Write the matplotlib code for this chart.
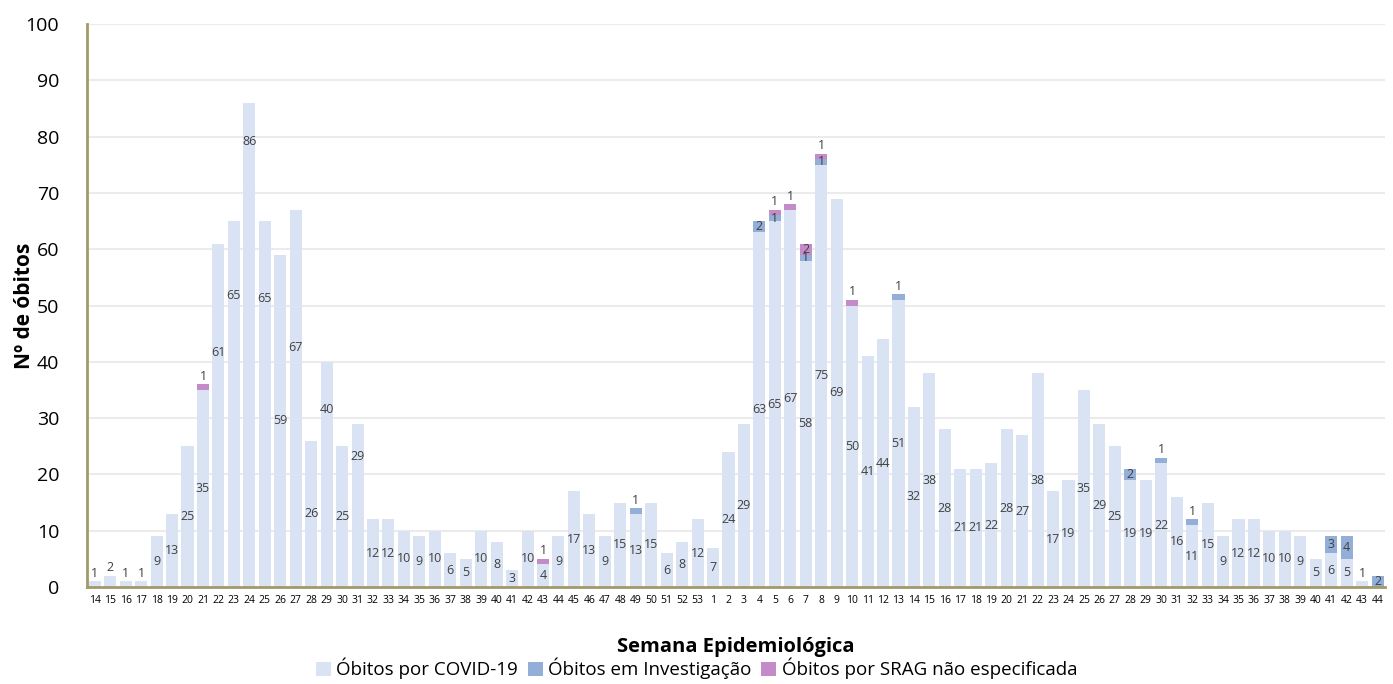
import numpy as np
import matplotlib
matplotlib.use("Agg")
import matplotlib.pyplot as plt
from matplotlib.patches import Patch

plt.rcParams['font.family'] = ['Open Sans', 'DejaVu Sans']

# semanas epidemiologicas: 2020 (14-53) e 2021 (1-44)
weeks = [str(w) for w in range(14, 54)] + [str(w) for w in range(1, 45)]

covid = [1, 2, 1, 1, 9, 13, 25, 35, 61, 65, 86, 65, 59, 67, 26, 40, 25, 29,
         12, 12, 10, 9, 10, 6, 5, 10, 8, 3, 10, 4, 9, 17, 13, 9, 15, 13, 15,
         6, 8, 12,
         7, 24, 29, 63, 65, 67, 58, 75, 69, 50, 41, 44, 51, 32, 38, 28, 21,
         21, 22, 28, 27, 38, 17, 19, 35, 29, 25, 19, 19, 22, 16, 11, 15, 9,
         12, 12, 10, 10, 9, 5, 6, 5, 1, 0]

investigacao = [0, 0, 0, 0, 0, 0, 0, 0, 0, 0, 0, 0, 0, 0, 0, 0, 0, 0,
                0, 0, 0, 0, 0, 0, 0, 0, 0, 0, 0, 0, 0, 0, 0, 0, 0, 1, 0,
                0, 0, 0,
                0, 0, 0, 2, 1, 0, 1, 1, 0, 0, 0, 0, 1, 0, 0, 0, 0,
                0, 0, 0, 0, 0, 0, 0, 0, 0, 0, 2, 0, 1, 0, 1, 0, 0,
                0, 0, 0, 0, 0, 0, 3, 4, 0, 2]

srag = [0, 0, 0, 0, 0, 0, 0, 1, 0, 0, 0, 0, 0, 0, 0, 0, 0, 0,
        0, 0, 0, 0, 0, 0, 0, 0, 0, 0, 0, 1, 0, 0, 0, 0, 0, 0, 0,
        0, 0, 0,
        0, 0, 0, 0, 1, 1, 2, 1, 0, 1, 0, 0, 0, 0, 0, 0, 0,
        0, 0, 0, 0, 0, 0, 0, 0, 0, 0, 0, 0, 0, 0, 0, 0, 0,
        0, 0, 0, 0, 0, 0, 0, 0, 0, 0]

series = [
    ("Óbitos por COVID-19", covid, "#dae3f3"),
    ("Óbitos em Investigação", investigacao, "#93afd8"),
    ("Óbitos por SRAG não especificada", srag, "#c38cc8"),
]

# rótulos deslocados no original (onda de 2020)
label_y_fix = {8: 41.7, 9: 51.7, 10: 79.2, 11: 51.3, 13: 42.5, 15: 31.6, 17: 23.1}

fig = plt.figure(figsize=(13.93, 6.84), dpi=100)
ax = fig.add_axes([0.0625, 0.1418, 0.932, 0.823])

x = np.arange(len(weeks))
bottom = np.zeros(len(weeks))
for si, (name, vals, col) in enumerate(series):
    vals = np.array(vals, dtype=float)
    ax.bar(x, vals, 0.78, bottom=bottom, color=col, zorder=2)
    for i, v in enumerate(vals):
        if v <= 0:
            continue
        top_seg = all(series[k][1][i] == 0 for k in range(si + 1, 3))
        if si == 0:
            above = v <= 2
        else:
            above = top_seg and v == 1
        if above:
            ax.text(i, bottom[i] + v + 0.3, f"{int(v)}", ha="center", va="bottom",
                    fontsize=9, color="#404040", zorder=3)
        else:
            ypos = label_y_fix.get(i, bottom[i] + v / 2) if si == 0 else bottom[i] + v / 2
            ax.text(i, ypos, f"{int(v)}", ha="center", va="center",
                    fontsize=9, color="#404040", zorder=3)
    bottom += vals

ax.set_xlim(-0.5, len(weeks) - 0.5)
ax.set_ylim(0, 100)
ax.set_yticks(range(0, 101, 10))
ax.set_xticks(x)
ax.set_xticklabels(weeks, fontsize=7.5)
ax.tick_params(axis="y", labelsize=14, length=0, pad=20)
ax.tick_params(axis="x", length=0, pad=6)
ax.grid(axis="y", color="#ebebeb", linewidth=1.5, zorder=0)
ax.set_axisbelow(True)

for s in ["top", "right"]:
    ax.spines[s].set_visible(False)
for s in ["left", "bottom"]:
    ax.spines[s].set_color("#a39a6a")
    ax.spines[s].set_linewidth(2)
    ax.spines[s].set_zorder(4)

ax.set_ylabel("Nº de óbitos", fontsize=15, fontweight="bold")
ax.yaxis.set_label_coords(-0.040, 0.5)
ax.set_xlabel("Semana Epidemiológica", fontsize=14.5, fontweight="bold")
ax.xaxis.set_label_coords(0.5, -0.088)

handles = [Patch(facecolor=c, edgecolor="none", label=n) for n, _, c in series]
fig.legend(handles=handles, loc="lower center", bbox_to_anchor=(0.5, -0.004), ncol=3,
           frameon=False, fontsize=13.5, handlelength=0.8, handleheight=0.8,
           handletextpad=0.3, columnspacing=0.5, borderaxespad=0)

fig.savefig("out.png", dpi=100)
